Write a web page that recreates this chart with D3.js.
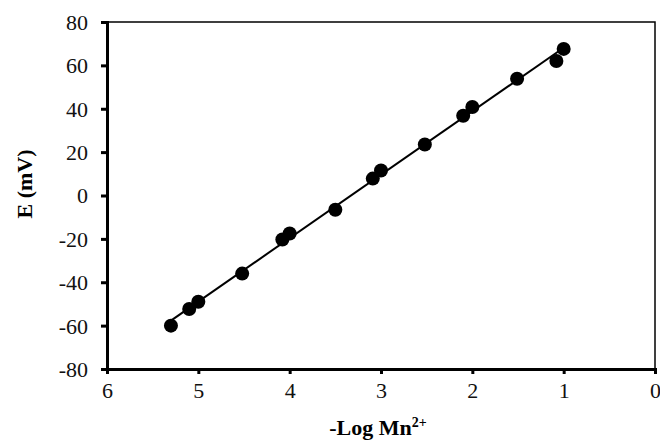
<!DOCTYPE html>
<html>
<head>
<meta charset="utf-8">
<script src="https://cdn.jsdelivr.net/npm/d3@7"></script>
<style>
  body { margin: 0; background: #fff; }
  svg text { font-family: "Liberation Serif", "Times New Roman", serif; }
</style>
</head>
<body>
<svg id="chart" width="660" height="442"></svg>
<script>
// -Log [Mn2+] vs potential (mV)
const logMn = [5.3, 5.1, 5.0, 4.52, 4.08, 4.0, 3.5, 3.09, 3.0, 2.52, 2.1, 2.0, 1.51, 1.08, 1.0];
const potential = [-60, -52.3, -49, -36, -20.3, -17.5, -6.6, 7.8, 11.5, 23.5, 36.8, 40.8, 53.8, 62, 67.6];
const xTicks = [6, 5, 4, 3, 2, 1, 0];
const yTicks = [80, 60, 40, 20, 0, -20, -40, -60, -80];

const svg = d3.select('#chart');
const margin = { left: 107, right: 5, top: 22, bottom: 73 };
const width = 660 - margin.left - margin.right;
const height = 442 - margin.top - margin.bottom;

const x = d3.scaleLinear().domain([6, 0]).range([margin.left, margin.left + width]);
const y = d3.scaleLinear().domain([-80, 80]).range([margin.top + height, margin.top]);

// frame (top/right thin)
svg.append('rect')
  .attr('x', x(6)).attr('y', y(80))
  .attr('width', x(0) - x(6)).attr('height', y(-80) - y(80))
  .attr('fill', 'none').attr('stroke', '#000').attr('stroke-width', 1.5);

const fmt = d => String(d);
const xAxis = svg.append('g')
  .attr('transform', `translate(0,${y(-80)})`)
  .call(d3.axisBottom(x).tickValues(xTicks).tickSize(5).tickPadding(8).tickFormat(fmt));
const yAxis = svg.append('g')
  .attr('transform', `translate(${x(6)},0)`)
  .call(d3.axisLeft(y).tickValues(yTicks).tickSize(6).tickPadding(13).tickFormat(fmt));

[xAxis, yAxis].forEach(g => {
  g.attr('font-family', '"Liberation Serif", serif').attr('font-size', 22);
  g.select('.domain').attr('stroke-width', 3);
  g.selectAll('.tick line').attr('stroke-width', 3);
  g.selectAll('.tick text').attr('fill', '#111');
});
yAxis.selectAll('.tick text').attr('dy', '0.34em');

// least squares fit line
const n = logMn.length;
const mx = d3.mean(logMn), my = d3.mean(potential);
let sxy = 0, sxx = 0;
for (let i = 0; i < n; i++) {
  sxy += (logMn[i] - mx) * (potential[i] - my);
  sxx += (logMn[i] - mx) ** 2;
}
const slope = sxy / sxx;
const icpt = my - slope * mx;
const xr = d3.extent(logMn);
const line = d3.line().x(d => x(d)).y(d => y(slope * d + icpt));
svg.append('path')
  .datum([xr[1], xr[0]])
  .attr('d', line)
  .attr('fill', 'none')
  .attr('stroke', '#000')
  .attr('stroke-width', 2);

svg.append('g').selectAll('circle')
  .data(logMn)
  .enter().append('circle')
  .attr('cx', d => x(d))
  .attr('cy', (d, i) => y(potential[i]))
  .attr('r', 7)
  .attr('fill', '#000');

// axis titles
const xt = svg.append('text')
  .attr('x', 378).attr('y', 435)
  .attr('text-anchor', 'middle')
  .attr('font-size', 22).attr('font-weight', 'bold');
xt.append('tspan').text('-Log Mn');
xt.append('tspan').attr('dy', -8).attr('font-size', 14).text('2+');

svg.append('text')
  .attr('transform', 'translate(32,184) rotate(-90)')
  .attr('text-anchor', 'middle')
  .attr('font-size', 22).attr('font-weight', 'bold')
  .text('E (mV)');
</script>
</body>
</html>
